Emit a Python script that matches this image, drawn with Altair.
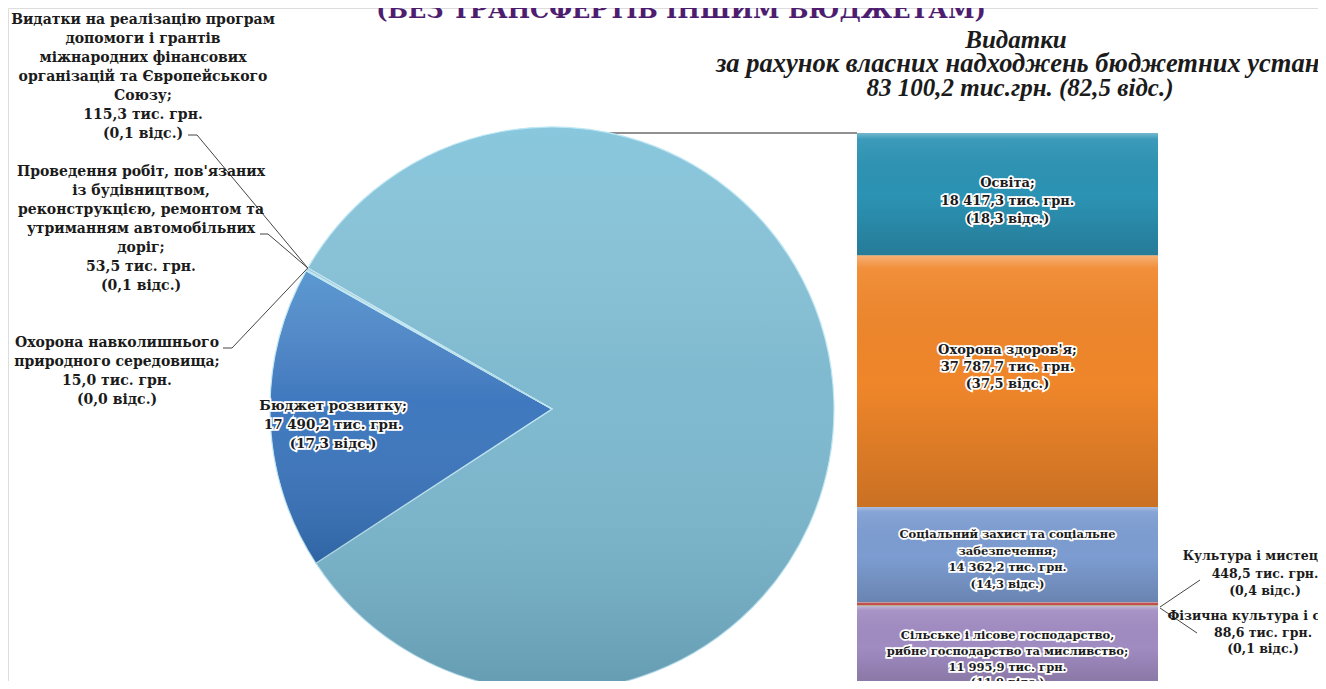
import math
import altair as alt
import pandas as pd

# ---------------- data ----------------
pie_names = [
    "Видатки за рахунок власних надходжень бюджетних установ",
    "Бюджет розвитку",
    "Охорона навколишнього природного середовища",
    "Проведення робіт, пов'язаних із будівництвом, реконструкцією, ремонтом та утриманням автомобільних доріг",
    "Видатки на реалізацію програм допомоги і грантів міжнародних фінансових організацій та Європейського Союзу",
]
pie_values = [83100.2, 17490.2, 15.0, 53.5, 115.3]
pie_pcts = [82.5, 17.3, 0.0, 0.1, 0.1]

bar_names = [
    "Освіта",
    "Охорона здоров'я",
    "Соціальний захист та соціальне забезпечення",
    "Культура і мистецтво",
    "Фізична культура і спорт",
    "Сільське і лісове господарство, рибне господарство та мисливство",
]
bar_values = [18417.3, 37787.7, 14362.2, 448.5, 88.6, 11995.9]
bar_pcts = [18.3, 37.5, 14.3, 0.4, 0.1, 11.9]

bar_name_lines = [
    ["Освіта;"],
    ["Охорона здоров'я;"],
    ["Соціальний  захист та соціальне", "забезпечення;"],
    ["Культура і мистецтво;"],
    ["Фізична  культура і спорт;"],
    ["Сільське і лісове господарство,", "рибне господарство  та мисливство;"],
]
pie_name_lines = [
    ["Видатки", "за рахунок власних надходжень бюджетних установ"],
    ["Бюджет розвитку;"],
    ["Охорона навколишнього", "природного середовища;"],
    ["Проведення робіт, пов'язаних", "із будівництвом,", "реконструкцією, ремонтом та",
     "утриманням автомобільних", "доріг;"],
    ["Видатки на реалізацію програм", "допомоги і грантів", "міжнародних фінансових",
     "організацій та Європейського", "Союзу;"],
]
title_text = "(БЕЗ ТРАНСФЕРТІВ ІНШИМ БЮДЖЕТАМ)"


def fmt_val(v):
    return f"{v:,.1f}".replace(",", " ").replace(".", ",")


def fmt_pct(p):
    return "(" + f"{p:.1f}".replace(".", ",") + " відс.)"


def label_lines(names, v, p):
    return names + [f"{fmt_val(v)} тис. грн.", fmt_pct(p)]


# ---------------- styles ----------------
pie_colors = ["#78b6cd", "#3571bb", "#9fa9ae", "#9fa9ae", "#9fa9ae"]
bar_colors = ["#2c93b4", "#f0862a", "#7d9dd2", "#c9504f", "#8fb04f", "#a18cc2"]
SERIF = "DejaVu Serif"
TXT = "#1b1b1b"
W, H = 1310, 673
CX, CY, R = 544, 401, 282          # pie centre / radius (chart px)
START = math.radians(300)           # angle where the big slice starts
BX1, BX2, BY1, BY2 = 849, 1150, 125, 678   # column area

pie_df = pd.DataFrame({
    "idx": list(range(len(pie_names))),
    "pname": pie_names,
    "value": pie_values,
    "label": ["", "\n".join(label_lines(pie_name_lines[1], pie_values[1], pie_pcts[1])), "", "", ""],
})
bar_df = pd.DataFrame({
    "idx": list(range(len(bar_names))),
    "bname": bar_names,
    "value": bar_values,
    "label": ["\n".join(label_lines(n, v, p)) for n, v, p in zip(bar_name_lines, bar_values, bar_pcts)],
})
bar_total = sum(bar_values)

# ---------------- pie ----------------
theta = alt.Theta("value:Q", stack=True,
                  scale=alt.Scale(range=[START, START + 2 * math.pi]))
pie_base = alt.Chart(pie_df).encode(
    theta=theta, order=alt.Order("idx:Q"),
    x=alt.value(CX), y=alt.value(CY),
)
pie = pie_base.mark_arc(outerRadius=R, stroke="#bfe6f2", strokeWidth=1.2).encode(
    color=alt.Color("pname:N", scale=alt.Scale(domain=pie_names, range=pie_colors), legend=None)
)
shade = alt.LinearGradient(
    gradient="linear", x1=0, x2=0, y1=0, y2=1,
    stops=[alt.GradientStop(color="rgba(170,235,255,0.32)", offset=0),
           alt.GradientStop(color="rgba(255,255,255,0.05)", offset=0.45),
           alt.GradientStop(color="rgba(20,50,70,0.20)", offset=1)],
)
pie_shade = pie_base.mark_arc(outerRadius=R, fill=shade)


def pie_label(halo):
    kw = dict(stroke="white", strokeWidth=3.5, fill="white") if halo else dict(fill=TXT)
    return pie_base.mark_text(radius=219, font=SERIF, fontWeight="bold", fontSize=13.5,
                              lineHeight=19, align="center", baseline="middle", dy=-10,
                              **kw).encode(text="lab:N").transform_calculate(
        lab="split(datum.label, '\\n')")


# ---------------- column ----------------
yscale = alt.Scale(domain=[0, bar_total], range=[BY1, BY2])
bar_base = alt.Chart(bar_df).transform_window(
    cum="sum(value)", sort=[alt.SortField("idx")], frame=[None, 0]
).transform_calculate(
    start="datum.cum - datum.value", mid="datum.cum - datum.value / 2",
    lab="split(datum.label, '\\n')",
)
bars = bar_base.mark_rect().encode(
    x=alt.value(BX1), x2=alt.value(BX2),
    y=alt.Y("start:Q", scale=yscale, axis=None), y2="cum:Q",
    color=alt.Color("bname:N", scale=alt.Scale(domain=bar_names, range=bar_colors), legend=None),
)
bar_shade_grad = alt.LinearGradient(
    gradient="linear", x1=0, x2=0, y1=0, y2=1,
    stops=[alt.GradientStop(color="rgba(255,255,255,0.35)", offset=0),
           alt.GradientStop(color="rgba(255,255,255,0.08)", offset=0.05),
           alt.GradientStop(color="rgba(0,0,0,0.00)", offset=0.5),
           alt.GradientStop(color="rgba(0,0,0,0.16)", offset=1)],
)
bar_shade = bar_base.mark_rect(fill=bar_shade_grad).encode(
    x=alt.value(BX1), x2=alt.value(BX2),
    y=alt.Y("start:Q", scale=yscale, axis=None), y2="cum:Q",
)


def bar_label(i, field, dy, size, lh):
    out = []
    for halo in (True, False):
        kw = dict(stroke="white", strokeWidth=3.5, fill="white") if halo else dict(fill=TXT)
        out.append(
            bar_base.transform_filter(f"datum.idx == {i}").mark_text(
                font=SERIF, fontWeight="bold", fontSize=size, lineHeight=lh,
                align="center", baseline="middle", dy=dy, **kw
            ).encode(
                x=alt.value((BX1 + BX2) / 2),
                y=alt.Y(f"{field}:Q", scale=yscale, axis=None),
                text="lab:N",
            )
        )
    return out


bar_lbls = (bar_label(0, "mid", -11, 13, 18) + bar_label(1, "mid", -31, 13, 17)
            + bar_label(2, "start", 28, 11.5, 16.5) + bar_label(5, "start", 30, 11.5, 15.7))

# ---------------- annotations ----------------
def txt(lines, x, y, size, lh, align="center", color=TXT, style="normal", font=SERIF, weight="bold"):
    return alt.Chart(pd.DataFrame({"a": [0]})).mark_text(
        text=lines, font=font, fontSize=size, lineHeight=lh, align=align, baseline="middle",
        fontStyle=style, fontWeight=weight, color=color,
    ).encode(x=alt.value(x), y=alt.value(y))


def seg(x1, y1, x2, y2, color="#444", w=1):
    return alt.Chart(pd.DataFrame({"a": [0]})).mark_rule(color=color, strokeWidth=w).encode(
        x=alt.value(x1), y=alt.value(y1), x2=alt.value(x2), y2=alt.value(y2))


# edge point of the pie where the tiny slices sit
px = CX + R * math.sin(START)
py = CY - R * math.cos(START)

left1 = txt(label_lines(pie_name_lines[4], pie_values[4], pie_pcts[4]), 135, 12, 14, 19)
left2 = txt(label_lines(pie_name_lines[3], pie_values[3], pie_pcts[3]), 133, 164, 14, 19)
left3 = txt(label_lines(pie_name_lines[2], pie_values[2], pie_pcts[2]), 109, 335, 14, 19)

right1 = txt(label_lines(bar_name_lines[3], bar_values[3], bar_pcts[3]), 1257, 548, 12.5, 17.5)
right2 = txt(label_lines(bar_name_lines[4], bar_values[4], bar_pcts[4]), 1255, 608, 12.5, 16.5)

leaders = [
    seg(180, 127, 189, 127), seg(189, 127, px, py),
    seg(252, 226, 260, 226), seg(260, 226, px, py),
    seg(215, 340, 224, 340), seg(224, 340, px, py),
    seg(BX2 + 2, 599, 1192, 572), seg(BX2 + 2, 600, 1189, 625),
]
connector = seg(CX, BY1, BX1, BY1, color="#222", w=1.2)

head1 = txt(["Видатки"], 1008, 32, 25, 24, font="Liberation Serif", style="italic")
head2 = txt(["за рахунок власних надходжень бюджетних установ"], 708, 56, 26.5, 24,
            align="left", font="Liberation Serif", style="italic")
head3 = txt([f"{fmt_val(sum(bar_values))} тис.грн.  {fmt_pct(pie_pcts[0])}"],
            1012, 80, 25, 24, font="Liberation Serif", style="italic")
title = alt.Chart(pd.DataFrame({"a": [0]})).mark_text(
    text=title_text, font=SERIF, fontSize=24, fontWeight="bold", color="#4e1d70",
    align="center", baseline="bottom",
).encode(x=alt.value(673), y=alt.value(15))

chart = alt.layer(
    connector, pie, pie_shade, pie_label(True), pie_label(False),
    bars, bar_shade, *bar_lbls,
    *leaders, left1, left2, left3, right1, right2,
    head1, head2, head3, title,
).resolve_scale(color="independent").properties(
    width=W, height=H, autosize=alt.AutoSizeParams(type="none"), padding=0,
).configure_view(stroke=None).configure(background="white")

chart.save("out.html", embed_options={"renderer": "svg", "actions": False})
